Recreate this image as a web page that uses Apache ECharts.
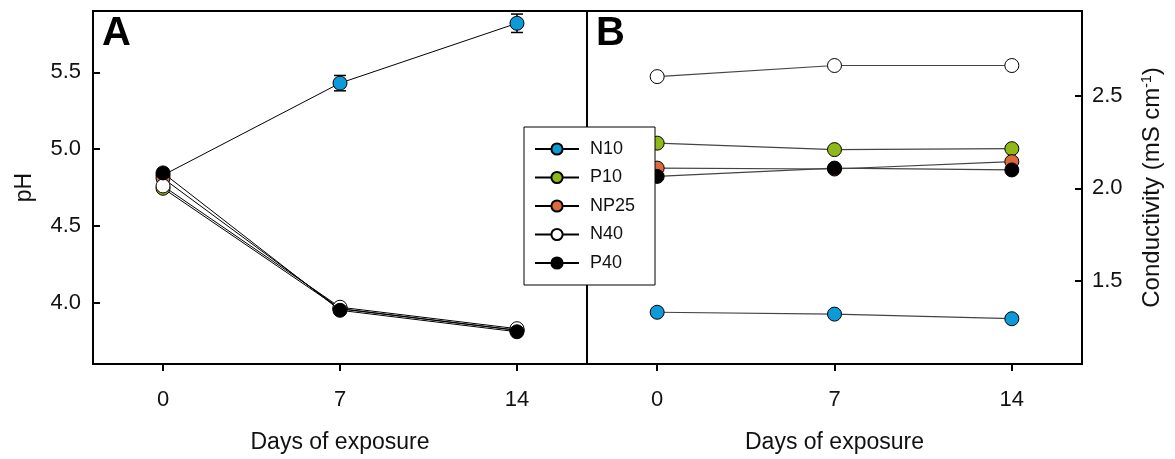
<!DOCTYPE html>
<html>
<head>
<meta charset="utf-8">
<script src="https://cdn.jsdelivr.net/npm/echarts@6/dist/echarts.min.js"></script>
<style>
html,body{margin:0;padding:0;background:#fff;}
#chart{width:1175px;height:459px;}
</style>
</head>
<body>
<div id="chart"></div>
<script>
// ---- data ----
const days = [0, 7, 14];
const seriesNames = ['N10', 'P10', 'NP25', 'N40', 'P40'];
const seriesColors = ['#0c9ad9', '#8fb81a', '#dd6a3c', '#ffffff', '#000000'];

const pH_N10 = [4.83, 5.43, 5.82];
const pH_P10 = [4.745, 3.96, 3.82];
const pH_NP25 = [4.81, 3.96, 3.82];
const pH_N40 = [4.76, 3.97, 3.83];
const pH_P40 = [4.845, 3.95, 3.81];
const pH_N10_err = [0.02, 0.05, 0.06];

const ec_N10 = [1.33, 1.32, 1.295];
const ec_P10 = [2.245, 2.21, 2.215];
const ec_NP25 = [2.11, 2.105, 2.145];
const ec_N40 = [2.605, 2.665, 2.665];
const ec_P40 = [2.065, 2.11, 2.10];

const xTicks = [0, 7, 14];
const pHTicks = [4.0, 4.5, 5.0, 5.5];
const ecTicks = [1.5, 2.0, 2.5];

// ---- build ----
const FONT = "'Liberation Sans', Arial, sans-serif";
const pHSets = [pH_N10, pH_P10, pH_NP25, pH_N40, pH_P40];
const ecSets = [ec_N10, ec_P10, ec_NP25, ec_N40, ec_P40];
const pairs = arr => days.map((d, i) => [d, arr[i]]);

function xAxisCfg(gi) {
  return {
    type: 'value', gridIndex: gi, min: -2.77, max: 16.77,
    splitLine: {show: false},
    axisLine: {show: true, onZero: false, lineStyle: {color: '#000', width: 2}},
    axisTick: {show: true, inside: false, length: 7, customValues: xTicks, lineStyle: {color: '#000', width: 2}},
    axisLabel: {customValues: xTicks, fontSize: 22, color: '#111', margin: 25, fontFamily: FONT},
    name: 'Days of exposure', nameLocation: 'middle', nameGap: 67,
    nameTextStyle: {fontSize: 23, color: '#111', fontFamily: FONT}
  };
}

const series = [];
seriesNames.forEach((nm, i) => {
  series.push({
    name: nm, type: 'line', xAxisIndex: 0, yAxisIndex: 0,
    data: pairs(pHSets[i]), symbol: 'circle', symbolSize: 14,
    lineStyle: {color: '#000', width: 1},
    itemStyle: {color: seriesColors[i], borderColor: '#000', borderWidth: 1},
    z: 3 + i, animation: false
  });
});
seriesNames.forEach((nm, i) => {
  series.push({
    name: nm, type: 'line', xAxisIndex: 1, yAxisIndex: 1,
    data: pairs(ecSets[i]), symbol: 'circle', symbolSize: 14,
    lineStyle: {color: '#444', width: 1.2},
    itemStyle: {color: seriesColors[i], borderColor: '#000', borderWidth: 1},
    z: 3 + i, animation: false
  });
});
series.push({
  type: 'custom', xAxisIndex: 0, yAxisIndex: 0, z: 2, animation: false,
  data: days.map((d, i) => [d, pH_N10[i], pH_N10_err[i]]),
  renderItem: function (params, api) {
    const x = api.value(0), y = api.value(1), e = api.value(2);
    const hi = api.coord([x, y + e]);
    const lo = api.coord([x, y - e]);
    const w = 6;
    const st = {stroke: '#000', lineWidth: 1.5};
    return {type: 'group', children: [
      {type: 'line', shape: {x1: hi[0], y1: hi[1], x2: lo[0], y2: lo[1]}, style: st},
      {type: 'line', shape: {x1: hi[0] - w, y1: hi[1], x2: hi[0] + w, y2: hi[1]}, style: st},
      {type: 'line', shape: {x1: lo[0] - w, y1: lo[1], x2: lo[0] + w, y2: lo[1]}, style: st}
    ]};
  }
});

const option = {
  backgroundColor: '#fff',
  animation: false,
  textStyle: {fontFamily: FONT},
  grid: [
    {left: 93, top: 11, width: 494, height: 355, show: true, borderColor: '#000', borderWidth: 2, backgroundColor: 'transparent'},
    {left: 587, top: 11, width: 495, height: 355, show: true, borderColor: '#000', borderWidth: 2, backgroundColor: 'transparent'}
  ],
  xAxis: [xAxisCfg(0), xAxisCfg(1)],
  yAxis: [
    {
      type: 'value', gridIndex: 0, min: 3.6, max: 5.9,
      splitLine: {show: false},
      axisLine: {show: true, onZero: false, lineStyle: {color: '#000', width: 2}},
      axisTick: {show: true, inside: true, length: 7, customValues: pHTicks, lineStyle: {color: '#000', width: 2}},
      axisLabel: {customValues: pHTicks, fontSize: 22, color: '#111', margin: 12, fontFamily: FONT,
        formatter: v => v.toFixed(1)},
      name: 'pH', nameLocation: 'middle', nameGap: 57, nameRotate: 90,
      nameTextStyle: {fontSize: 23, color: '#111', fontFamily: FONT}
    },
    {
      type: 'value', gridIndex: 1, position: 'right', min: 1.05, max: 2.96,
      splitLine: {show: false},
      axisLine: {show: true, onZero: false, lineStyle: {color: '#000', width: 2}},
      axisTick: {show: true, inside: true, length: 7, customValues: ecTicks, lineStyle: {color: '#000', width: 2}},
      axisLabel: {customValues: ecTicks, fontSize: 22, color: '#111', margin: 10, fontFamily: FONT,
        formatter: v => v.toFixed(1)},
      name: '{a|Conductivity (mS cm}{s|-1}{a|)}', nameLocation: 'middle', nameGap: 58, nameRotate: 90,
      nameTextStyle: {fontSize: 24, color: '#111', fontFamily: FONT,
        rich: {a: {fontSize: 24, color: '#111', fontFamily: FONT}, s: {fontSize: 14, color: '#111', fontFamily: FONT, verticalAlign: 'top', padding: [0, 0, 10, 0]}}}
    }
  ],
  legend: {
    data: seriesNames, orient: 'vertical', left: 524, top: 127,
    itemWidth: 44, itemHeight: 14, itemGap: 10.5,
    padding: [13, 20, 13, 10],
    borderColor: '#000', borderWidth: 1, backgroundColor: '#fff',
    textStyle: {fontSize: 18, color: '#111', fontFamily: FONT, padding: [0, 0, 0, 6]},
    selectedMode: false, z: 10
  },
  graphic: [
    {type: 'text', left: 102, top: 14, z: 20, style: {text: 'A', font: "bold 40px 'Liberation Sans', Arial, sans-serif", fill: '#000'}},
    {type: 'text', left: 596, top: 14, z: 20, style: {text: 'B', font: "bold 40px 'Liberation Sans', Arial, sans-serif", fill: '#000'}}
  ],
  series: series
};

const chart = echarts.init(document.getElementById('chart'), null, {renderer: 'canvas'});
chart.setOption(option);
</script>
</body>
</html>
